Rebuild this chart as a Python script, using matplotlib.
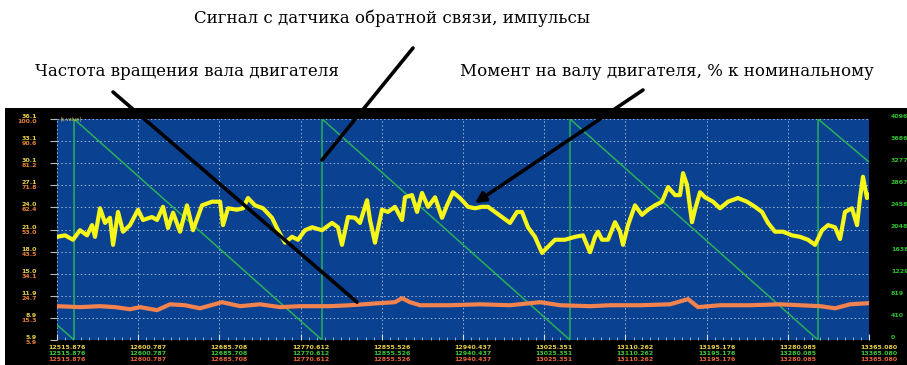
import numpy as np
import matplotlib
matplotlib.use("Agg")
import matplotlib.pyplot as plt
from matplotlib.patches import Rectangle
from matplotlib.transforms import offset_copy

# time axis (s)
x_start = 12515.876
x_end = 13365.0
x_labels = ['12515.876', '12600.787', '12685.708', '12770.612', '12855.526',
            '12940.437', '13025.351', '13110.262', '13195.176', '13280.085',
            '13365.080']

# left scales (yellow row / orange row) and right scale (green)
yellow_labels = ['5.9', '8.9', '11.9', '15.0', '18.0', '21.0', '24.0', '27.1',
                 '30.1', '33.1', '36.1']
orange_labels = ['5.9', '15.3', '24.7', '34.1', '43.5', '53.0', '62.4', '71.8',
                 '81.2', '90.6', '100.0']
green_labels = ['0', '410', '819', '1229', '1638', '2048', '2458', '2867',
                '3277', '3686', '4096']

# torque on the motor shaft (yellow trace)
torque_t = [12515.9, 12524.3, 12532.6, 12539.9, 12547.3, 12552.5, 12555.6, 12560.9,
            12566.1, 12571.3, 12574.5, 12579.7, 12584.9, 12592.2, 12600.6, 12605.8,
            12615.2, 12620.5, 12626.7, 12632.0, 12637.2, 12644.5, 12651.8, 12658.1,
            12667.5, 12678.0, 12686.4, 12689.5, 12694.7, 12704.1, 12710.4, 12715.6,
            12722.9, 12731.3, 12740.7, 12747.0, 12754.3, 12761.6, 12767.9, 12775.2,
            12782.6, 12793.0, 12803.5, 12809.7, 12813.9, 12820.2, 12827.5, 12832.7,
            12840.1, 12843.2, 12848.4, 12855.7, 12862.0, 12869.3, 12876.7, 12879.8,
            12887.1, 12892.4, 12897.6, 12903.9, 12911.2, 12918.5, 12923.7, 12930.0,
            12937.3, 12945.7, 12953.0, 12960.3, 12966.6, 12973.9, 12982.3, 12989.6,
            12996.9, 13002.1, 13008.4, 13015.7, 13023.1, 13028.3, 13036.7, 13047.1,
            13057.6, 13065.9, 13073.3, 13078.5, 13081.6, 13085.8, 13092.1, 13099.4,
            13104.6, 13107.8, 13113.0, 13120.3, 13127.6, 13133.9, 13141.2, 13148.6,
            13154.9, 13162.2, 13167.4, 13170.5, 13174.7, 13179.9, 13183.0, 13188.3,
            13193.5, 13201.9, 13209.2, 13217.6, 13228.0, 13237.4, 13245.8, 13253.1,
            13259.4, 13266.7, 13275.1, 13284.5, 13292.9, 13301.2, 13308.6, 13315.9,
            13322.2, 13329.5, 13334.7, 13339.9, 13347.2, 13352.5, 13355.6, 13358.7,
            13362.9, 13365.0]
torque_v = [20.0, 20.2, 19.6, 20.9, 20.2, 21.6, 20.0, 23.9,
            21.9, 22.6, 18.9, 23.4, 20.7, 21.6, 23.7, 22.3,
            22.7, 22.3, 24.1, 21.2, 23.3, 20.7, 24.3, 20.9,
            24.3, 24.8, 24.8, 21.6, 23.9, 23.7, 23.9, 25.3,
            24.3, 23.9, 22.6, 20.9, 19.2, 20.0, 19.6, 20.9,
            21.3, 20.9, 21.9, 21.3, 18.9, 22.7, 22.6, 21.9,
            25.0, 22.3, 19.2, 23.7, 23.4, 24.1, 22.3, 25.4,
            25.7, 23.4, 26.0, 24.1, 25.4, 22.6, 24.3, 26.1,
            25.3, 24.1, 23.9, 24.1, 24.1, 23.4, 22.6, 21.9,
            23.4, 23.4, 21.3, 20.0, 17.8, 18.5, 19.6, 19.6,
            20.0, 20.2, 17.9, 20.0, 20.7, 19.6, 19.6, 22.0,
            20.7, 18.9, 21.6, 24.3, 23.0, 23.7, 24.3, 24.8,
            26.8, 25.7, 25.7, 28.7, 27.1, 22.0, 23.7, 26.1,
            25.4, 24.8, 23.9, 24.8, 25.3, 24.8, 24.1, 23.4,
            21.9, 20.7, 20.7, 20.2, 20.0, 19.6, 18.9, 20.9,
            21.6, 21.3, 19.7, 23.4, 23.9, 21.6, 25.3, 28.2,
            25.3, 25.7]

# motor shaft speed (orange trace)
speed_t = [12515.9, 12539.9, 12560.9, 12576.6, 12592.2, 12602.7, 12620.5, 12634.1,
           12649.7, 12665.4, 12688.4, 12707.3, 12728.2, 12749.1, 12770.0, 12801.4,
           12822.3, 12853.7, 12869.3, 12876.7, 12885.0, 12895.5, 12926.9, 12958.2,
           12989.6, 13021.0, 13041.9, 13073.3, 13094.2, 13125.6, 13156.9, 13175.8,
           13186.3, 13209.2, 13240.6, 13272.0, 13292.9, 13313.8, 13329.5, 13345.1,
           13365.0]
speed_v = [20.3, 19.9, 20.3, 19.9, 19.0, 19.9, 18.6, 21.1,
           20.7, 19.4, 22.0, 20.3, 21.1, 19.9, 20.3, 20.3,
           20.7, 21.6, 22.0, 23.7, 22.0, 20.7, 20.7, 21.1,
           20.7, 22.0, 20.7, 20.3, 20.7, 20.7, 21.1, 23.3,
           19.9, 20.7, 20.7, 21.1, 20.7, 20.3, 19.4, 21.1,
           21.6]

# feedback sensor signal, pulses (green sawtooth)
pulse_t = [12515.9, 12533.7, 12533.7, 12793.0, 12793.0, 13052.3, 13052.3,
           13311.7, 13311.7, 13365.0]
pulse_v = [280, 0, 4096, 0, 4096, 0, 4096, 0, 4096, 3300]

W, H = 907, 365
fig = plt.figure(figsize=(W / 100, H / 100), dpi=100)
fig.patch.set_facecolor('white')

# black instrument panel
fig.add_artist(Rectangle((5 / W, 0), 1 - 5 / W, 257 / H, transform=fig.transFigure,
                         facecolor='black', edgecolor='none', zorder=0))

axg = fig.add_axes([57 / W, 25 / H, 812 / W, 221 / H])
axg.set_facecolor('#0b4191')
axg.plot(pulse_t, pulse_v, color='#27b05a', lw=1.1)
axg.set_xlim(x_start, x_end)
axg.set_ylim(0, 4096)

x_ticks = np.linspace(x_start, x_end, 11)
g_ticks = np.linspace(0, 4096, 11)
axg.set_xticks(x_ticks)
axg.set_xticks(np.linspace(x_start, x_end, 101), minor=True)
axg.set_yticks(g_ticks)
axg.set_xticklabels([])
axg.set_yticklabels([])
axg.tick_params(axis='x', which='major', direction='in', length=4, color='#dddddd')
axg.tick_params(axis='x', which='minor', direction='in', length=2, color='#bbbbbb')
axg.tick_params(axis='y', left=True, right=True, direction='out', length=5,
                color='#bbbbbb', width=0.8)
axg.grid(True, color='white', ls=(0, (1.5, 2.5)), lw=0.7, alpha=0.6)
for s in axg.spines.values():
    s.set_visible(False)

axy = axg.twinx()
axy.plot(torque_t, torque_v, color='#f6f61a', lw=3.0)
axy.set_ylim(5.9, 36.1)

axo = axg.twinx()
axo.plot(speed_t, speed_v, color='#f2834e', lw=3.0)
axo.set_ylim(5.9, 100.0)

for a in (axy, axo):
    a.set_xlim(x_start, x_end)
    a.set_yticks([])
    for s in a.spines.values():
        s.set_visible(False)

lab = dict(fontsize=4.5, fontweight='bold')

# left scales: yellow above the tick, orange below
for pos, txt in zip(np.linspace(5.9, 36.1, 11), yellow_labels):
    axy.text(-0.0246, pos, txt, transform=axy.get_yaxis_transform(), ha='right',
             va='bottom', color='#e8d24a', **lab)
for pos, txt in zip(np.linspace(5.9, 100.0, 11), orange_labels):
    axo.text(-0.0246, pos, txt, transform=axo.get_yaxis_transform(), ha='right',
             va='top', color='#e8813a', **lab)

# right scale
for pos, txt in zip(g_ticks, green_labels):
    axg.text(1.027, pos, txt, transform=axg.get_yaxis_transform(), ha='left',
             va='bottom', color='#2fc02f', **lab)

# bottom: three rows of the same time value
xtr = offset_copy(axg.get_xaxis_transform(), fig=fig, x=10, y=0, units='dots')
rows = [(-0.032, '#e8d24a'), (-0.059, '#3cc83c'), (-0.090, '#e8653a')]
for pos, txt in zip(x_ticks, x_labels):
    for yy, col in rows:
        axg.text(pos, yy, txt, transform=xtr, ha='center', va='center',
                 color=col, clip_on=False, **lab)

axg.text(0.004, 1.0, '[s.value]', transform=axg.transAxes, fontsize=3.5,
         color='#d8c850', va='center')

# captions and pointer lines
serif = dict(family='DejaVu Serif', fontsize=12, color='black', ha='center', va='center')
fig.text(392 / W, 1 - 18 / H, 'Сигнал с датчика обратной связи, импульсы', **serif)
fig.text(187 / W, 1 - 72 / H, 'Частота вращения вала двигателя', **serif)
fig.text(667 / W, 1 - 72 / H, 'Момент на валу двигателя, % к номинальному', **serif)

line = dict(arrowstyle='-', color='black', lw=2.6, shrinkA=0, shrinkB=0)
axo.annotate('', xy=(12793.0, 3336), xycoords=axg.transData,
             xytext=(413 / W, 1 - 48 / H), textcoords='figure fraction',
             arrowprops=line, annotation_clip=False)
axo.annotate('', xy=(12829.6, 22.0), xycoords=axo.transData,
             xytext=(113 / W, 1 - 92 / H), textcoords='figure fraction',
             arrowprops=line, annotation_clip=False)
axo.annotate('', xy=(12953.0, 24.6), xycoords=axy.transData,
             xytext=(643 / W, 1 - 90 / H), textcoords='figure fraction',
             arrowprops=dict(arrowstyle='-|>,head_length=0.6,head_width=0.3',
                             color='black', lw=2.6, shrinkA=0, shrinkB=0),
             annotation_clip=False)

fig.savefig('out.png', dpi=100)
